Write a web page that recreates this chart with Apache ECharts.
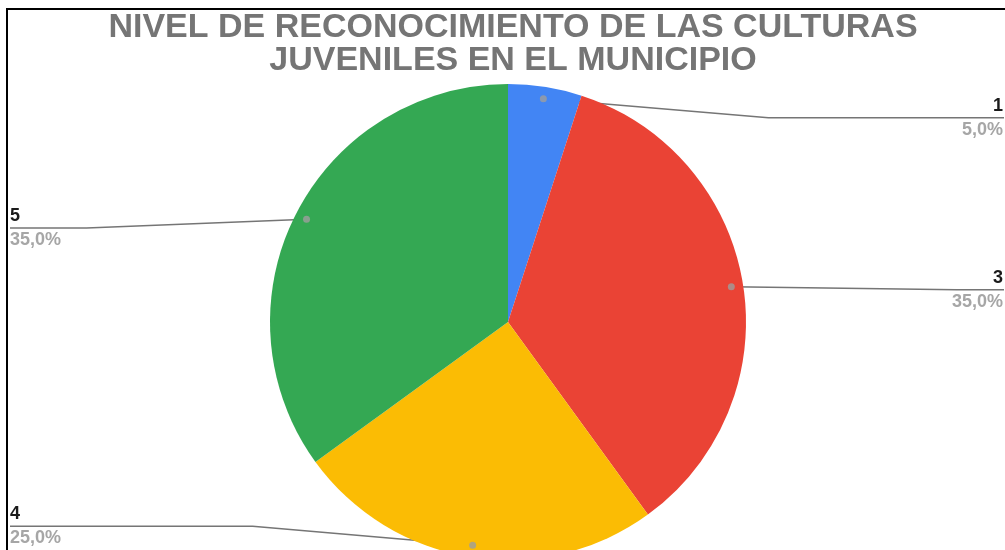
<!DOCTYPE html>
<html>
<head>
<meta charset="utf-8">
<script src="https://cdn.jsdelivr.net/npm/echarts@6/dist/echarts.min.js"></script>
<style>
html,body{margin:0;padding:0;background:#fff;}
#chart{width:1005px;height:550px;}
</style>
</head>
<body>
<div id="chart"></div>
<script>
const titleText = 'NIVEL DE RECONOCIMIENTO DE LAS CULTURAS\nJUVENILES EN EL MUNICIPIO';
const categories = ['1', '3', '4', '5'];
const values = [5, 35, 25, 35];
const percentLabels = ['5,0%', '35,0%', '25,0%', '35,0%'];
const colors = ['#4285F4', '#EA4335', '#FBBC04', '#34A853'];

const W = 1005, H = 550;
const CX = 508, CY = 322, R = 238;
const DOT = 0.95;

const total = values.reduce((a, b) => a + b, 0);
const dotData = [];
let acc = 0;
values.forEach(v => { dotData.push([DOT, acc + v / 2]); acc += v; });

const FONT = 'Liberation Sans, Arial, sans-serif';
const chart = echarts.init(document.getElementById('chart'), null, {renderer: 'canvas'});
chart.setOption({
  backgroundColor: '#fff',
  animation: false,
  title: {
    text: titleText,
    left: CX,
    textAlign: 'center',
    top: 6,
    textStyle: {
      fontFamily: FONT,
      fontSize: 34,
      lineHeight: 33,
      fontWeight: 'bold',
      color: '#757575'
    }
  },
  graphic: [{
    type: 'polyline',
    silent: true,
    shape: {points: [[7, H], [7, 9], [W, 9]]},
    style: {stroke: '#000', lineWidth: 2, fill: null}
  }],
  polar: {center: [CX, CY], radius: R},
  angleAxis: {type: 'value', min: 0, max: total, startAngle: 90, clockwise: true, show: false},
  radiusAxis: {type: 'value', min: 0, max: 1, show: false},
  series: [{
    type: 'pie',
    center: [CX, CY],
    radius: R,
    startAngle: 90,
    clockwise: true,
    silent: true,
    data: categories.map((c, i) => ({
      name: c,
      value: values[i],
      itemStyle: {color: colors[i]},
      label: {formatter: '{n|' + c + '}\n{p|' + percentLabels[i] + '}'}
    })),
    label: {
      show: true,
      position: 'outside',
      fontFamily: FONT,
      rich: {
        n: {fontSize: 18, fontWeight: 'bold', color: '#1a1a1a', lineHeight: 24, fontFamily: FONT},
        p: {fontSize: 18, fontWeight: 'bold', color: '#a6a6a6', lineHeight: 24, fontFamily: FONT}
      }
    },
    labelLine: {show: true, length: 10, length2: 10, lineStyle: {color: '#757575', width: 1.5}},
    labelLayout: function (params) {
      let pts = params.labelLinePoints;
      let p0 = pts[0];
      let px = p0[0] !== undefined ? p0[0] : p0.x;
      let py = p0[1] !== undefined ? p0[1] : p0.y;
      const dx = CX + (px - CX) * DOT;
      const dy = CY + (py - CY) * DOT;
      const y = CY + (dy - CY) * 0.915;
      const right = px > CX;
      const endX = right ? W - 1 : 10;
      const bendX = right ? Math.min(dx + 225, endX) : Math.max(dx - 220, endX);
      return {
        x: right ? W - 2 : 10,
        y: y,
        align: right ? 'right' : 'left',
        verticalAlign: 'middle',
        labelLinePoints: [[dx, dy], [bendX, y], [endX, y]]
      };
    }
  }, {
    type: 'scatter',
    coordinateSystem: 'polar',
    silent: true,
    symbol: 'circle',
    symbolSize: 7,
    itemStyle: {color: '#9e9e9e'},
    z: 5,
    data: dotData
  }]
});
</script>
</body>
</html>
